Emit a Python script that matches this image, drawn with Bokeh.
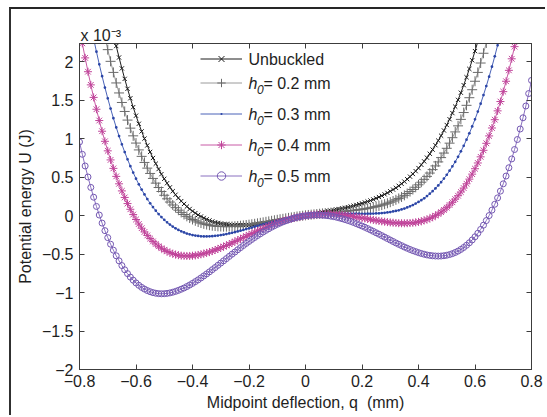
from bokeh.plotting import figure
from bokeh.models import (LinearAxis, FixedTicker, CustomJSTickFormatter, Label,
                          Legend, LegendItem)
from bokeh.embed import file_html
from bokeh.resources import INLINE

# Midpoint deflection grid, mm
Q = [-0.80, -0.79, -0.78, -0.77, -0.76, -0.75, -0.74, -0.73, -0.72, -0.71,
     -0.70, -0.69, -0.68, -0.67, -0.66, -0.65, -0.64, -0.63, -0.62, -0.61,
     -0.60, -0.59, -0.58, -0.57, -0.56, -0.55, -0.54, -0.53, -0.52, -0.51,
     -0.50, -0.49, -0.48, -0.47, -0.46, -0.45, -0.44, -0.43, -0.42, -0.41,
     -0.40, -0.39, -0.38, -0.37, -0.36, -0.35, -0.34, -0.33, -0.32, -0.31,
     -0.30, -0.29, -0.28, -0.27, -0.26, -0.25, -0.24, -0.23, -0.22, -0.21,
     -0.20, -0.19, -0.18, -0.17, -0.16, -0.15, -0.14, -0.13, -0.12, -0.11,
     -0.10, -0.09, -0.08, -0.07, -0.06, -0.05, -0.04, -0.03, -0.02, -0.01,
     0.00, 0.01, 0.02, 0.03, 0.04, 0.05, 0.06, 0.07, 0.08, 0.09,
     0.10, 0.11, 0.12, 0.13, 0.14, 0.15, 0.16, 0.17, 0.18, 0.19,
     0.20, 0.21, 0.22, 0.23, 0.24, 0.25, 0.26, 0.27, 0.28, 0.29,
     0.30, 0.31, 0.32, 0.33, 0.34, 0.35, 0.36, 0.37, 0.38, 0.39,
     0.40, 0.41, 0.42, 0.43, 0.44, 0.45, 0.46, 0.47, 0.48, 0.49,
     0.50, 0.51, 0.52, 0.53, 0.54, 0.55, 0.56, 0.57, 0.58, 0.59,
     0.60, 0.61, 0.62, 0.63, 0.64, 0.65, 0.66, 0.67, 0.68, 0.69,
     0.70, 0.71, 0.72, 0.73, 0.74, 0.75, 0.76, 0.77, 0.78, 0.79,
     0.80]

# Potential energy (x 1e-3 J); each series starts at the given index of Q
START_UNBUCKLED = 12
U_UNBUCKLED = [
    2.363, 2.207, 2.058, 1.916, 1.780, 1.651, 1.528, 1.412, 1.301, 1.196,
    1.097, 1.003, 0.914, 0.830, 0.751, 0.677, 0.607, 0.541, 0.480, 0.423,
    0.369, 0.319, 0.273, 0.230, 0.190, 0.153, 0.119, 0.088, 0.060, 0.034,
    0.011, -0.010, -0.029, -0.046, -0.061, -0.074, -0.085, -0.094, -0.102, -0.109,
    -0.114, -0.118, -0.121, -0.123, -0.124, -0.124, -0.123, -0.121, -0.119, -0.116,
    -0.112, -0.108, -0.103, -0.098, -0.093, -0.087, -0.081, -0.075, -0.069, -0.062,
    -0.055, -0.049, -0.042, -0.035, -0.028, -0.021, -0.014, -0.007, 0.000,
    0.007, 0.014, 0.021, 0.028, 0.035, 0.042, 0.049, 0.057, 0.064, 0.071,
    0.079, 0.087, 0.095, 0.103, 0.112, 0.121, 0.130, 0.140, 0.150, 0.161,
    0.173, 0.185, 0.198, 0.212, 0.227, 0.243, 0.260, 0.278, 0.297, 0.318,
    0.340, 0.363, 0.389, 0.416, 0.444, 0.475, 0.508, 0.543, 0.580, 0.620,
    0.662, 0.707, 0.755, 0.806, 0.860, 0.917, 0.977, 1.041, 1.109, 1.180,
    1.255, 1.335, 1.419, 1.507, 1.600, 1.698, 1.801, 1.909, 2.022, 2.141,
    2.266]

START_H02 = 9
U_H02 = [
    2.318, 2.160, 2.008, 1.864, 1.727, 1.597, 1.473, 1.356, 1.244, 1.139,
    1.039, 0.945, 0.856, 0.772, 0.693, 0.619, 0.550, 0.485, 0.424, 0.367,
    0.315, 0.266, 0.220, 0.178, 0.140, 0.105, 0.072, 0.043, 0.016, -0.008,
    -0.030, -0.049, -0.066, -0.082, -0.095, -0.106, -0.115, -0.123, -0.130, -0.134,
    -0.138, -0.140, -0.142, -0.142, -0.141, -0.140, -0.137, -0.134, -0.130, -0.126,
    -0.121, -0.116, -0.111, -0.105, -0.099, -0.092, -0.086, -0.079, -0.073, -0.066,
    -0.059, -0.053, -0.046, -0.040, -0.034, -0.028, -0.022, -0.016, -0.010, -0.005,
    0.000,
    0.005, 0.010, 0.014, 0.018, 0.022, 0.026, 0.030, 0.034, 0.037, 0.041,
    0.044, 0.048, 0.051, 0.054, 0.058, 0.062, 0.065, 0.070, 0.074, 0.079,
    0.084, 0.090, 0.096, 0.103, 0.111, 0.119, 0.128, 0.138, 0.150, 0.162,
    0.176, 0.191, 0.207, 0.225, 0.244, 0.265, 0.289, 0.314, 0.341, 0.370,
    0.402, 0.436, 0.473, 0.512, 0.555, 0.600, 0.648, 0.700, 0.756, 0.815,
    0.877, 0.944, 1.015, 1.090, 1.169, 1.253, 1.342, 1.436, 1.535, 1.639,
    1.749, 1.864, 1.986, 2.113, 2.247]

START_H03 = 5
U_H03 = [
    2.303, 2.133, 1.970, 1.815, 1.667, 1.527, 1.394, 1.268, 1.149, 1.036,
    0.929, 0.828, 0.734, 0.644, 0.561, 0.482, 0.409, 0.340, 0.277, 0.217,
    0.162, 0.112, 0.065, 0.022, -0.018, -0.053, -0.086, -0.115, -0.141, -0.164,
    -0.185, -0.203, -0.218, -0.232, -0.242, -0.251, -0.258, -0.263, -0.267, -0.269,
    -0.269, -0.268, -0.266, -0.262, -0.258, -0.252, -0.246, -0.239, -0.231, -0.223,
    -0.214, -0.204, -0.195, -0.185, -0.174, -0.164, -0.154, -0.143, -0.133, -0.122,
    -0.112, -0.102, -0.092, -0.082, -0.073, -0.064, -0.055, -0.046, -0.038, -0.031,
    -0.024, -0.017, -0.011, -0.005, 0.000,
    0.005, 0.009, 0.013, 0.016, 0.019, 0.022, 0.024, 0.025, 0.027, 0.027,
    0.028, 0.028, 0.028, 0.028, 0.028, 0.028, 0.027, 0.027, 0.026, 0.026,
    0.025, 0.025, 0.026, 0.026, 0.028, 0.029, 0.031, 0.034, 0.038, 0.042,
    0.048, 0.055, 0.062, 0.071, 0.082, 0.093, 0.107, 0.122, 0.139, 0.158,
    0.179, 0.202, 0.227, 0.255, 0.286, 0.319, 0.355, 0.394, 0.437, 0.483,
    0.532, 0.585, 0.642, 0.702, 0.767, 0.837, 0.910, 0.989, 1.072, 1.161,
    1.254, 1.354, 1.458, 1.569, 1.686, 1.809, 1.938, 2.074, 2.217, 2.367]

START_H04 = 0
U_H04 = [
    2.440, 2.242, 2.053, 1.873, 1.702, 1.539, 1.385, 1.238, 1.099, 0.968,
    0.844, 0.726, 0.616, 0.512, 0.415, 0.323, 0.238, 0.158, 0.084, 0.015,
    -0.049, -0.108, -0.162, -0.211, -0.256, -0.297, -0.334, -0.367, -0.397, -0.423,
    -0.445, -0.464, -0.481, -0.494, -0.505, -0.513, -0.519, -0.522, -0.523, -0.523,
    -0.520, -0.516, -0.510, -0.502, -0.493, -0.483, -0.472, -0.460, -0.446, -0.432,
    -0.417, -0.402, -0.386, -0.370, -0.353, -0.336, -0.318, -0.301, -0.284, -0.266,
    -0.249, -0.232, -0.215, -0.198, -0.182, -0.166, -0.150, -0.135, -0.121, -0.107,
    -0.094, -0.081, -0.069, -0.058, -0.047, -0.037, -0.028, -0.020, -0.013, -0.006,
    0.000,
    0.005, 0.009, 0.013, 0.016, 0.018, 0.019, 0.019, 0.019, 0.018, 0.016,
    0.014, 0.011, 0.008, 0.004, -0.001, -0.006, -0.011, -0.017, -0.023, -0.029,
    -0.035, -0.042, -0.048, -0.054, -0.061, -0.067, -0.073, -0.078, -0.083, -0.087,
    -0.091, -0.094, -0.097, -0.098, -0.098, -0.097, -0.095, -0.092, -0.087, -0.080,
    -0.072, -0.061, -0.049, -0.035, -0.018, 0.001, 0.023, 0.047, 0.075, 0.105,
    0.139, 0.175, 0.216, 0.260, 0.308, 0.360, 0.416, 0.476, 0.541, 0.611,
    0.686, 0.766, 0.851, 0.942, 1.038, 1.141, 1.249, 1.364, 1.485, 1.614,
    1.749, 1.891, 2.041, 2.199, 2.364]

START_H05 = 0
U_H05 = [
    0.959, 0.799, 0.647, 0.504, 0.368, 0.241, 0.121, 0.009, -0.096, -0.194,
    -0.285, -0.370, -0.448, -0.521, -0.587, -0.648, -0.703, -0.753, -0.798, -0.838,
    -0.874, -0.905, -0.932, -0.954, -0.973, -0.988, -1.000, -1.008, -1.013, -1.015,
    -1.014, -1.010, -1.004, -0.995, -0.984, -0.971, -0.956, -0.940, -0.921, -0.901,
    -0.880, -0.857, -0.834, -0.809, -0.783, -0.757, -0.730, -0.702, -0.674, -0.645,
    -0.616, -0.587, -0.558, -0.529, -0.500, -0.472, -0.443, -0.415, -0.387, -0.360,
    -0.334, -0.308, -0.283, -0.258, -0.235, -0.212, -0.190, -0.169, -0.149, -0.130,
    -0.112, -0.096, -0.080, -0.066, -0.053, -0.041, -0.030, -0.021, -0.013, -0.006,
    0.000,
    0.004, 0.007, 0.009, 0.010, 0.009, 0.007, 0.004, 0.000, -0.006, -0.012,
    -0.020, -0.029, -0.039, -0.050, -0.062, -0.074, -0.088, -0.103, -0.118, -0.134,
    -0.150, -0.167, -0.185, -0.203, -0.222, -0.240, -0.259, -0.278, -0.297, -0.316,
    -0.335, -0.354, -0.372, -0.389, -0.407, -0.423, -0.439, -0.454, -0.467, -0.480,
    -0.491, -0.501, -0.510, -0.516, -0.521, -0.524, -0.525, -0.524, -0.520, -0.514,
    -0.505, -0.493, -0.478, -0.460, -0.438, -0.413, -0.384, -0.352, -0.315, -0.274,
    -0.228, -0.178, -0.123, -0.063, 0.002, 0.073, 0.149, 0.232, 0.320, 0.415,
    0.516, 0.624, 0.739, 0.861, 0.991, 1.128, 1.274, 1.427, 1.589, 1.760]

H0_LABELS = ["0.2", "0.3", "0.4", "0.5"]

X_TICKS = [-0.8, -0.6, -0.4, -0.2, 0.0, 0.2, 0.4, 0.6, 0.8]
Y_TICKS = [-2.0, -1.5, -1.0, -0.5, 0.0, 0.5, 1.0, 1.5, 2.0]

FONT = "Liberation Sans"
TXT = "#1e1e1e"
AX = "#3c3c3c"

# (start, values, line colour, marker, marker colour, marker size, marker fill)
SERIES = [
    (START_UNBUCKLED, U_UNBUCKLED, "#1c1c1c", "x", "#1c1c1c", 6, None),
    (START_H02, U_H02, "#9a9a9a", "cross", "#6a6a6a", 10, None),
    (START_H03, U_H03, "#4a63b8", "dot", "#2b45a6", 11, "#2b45a6"),
    (START_H04, U_H04, "#c85aa6", "asterisk", "#c0449a", 8, None),
    (START_H05, U_H05, "#8a70c0", "circle", "#7458b2", 6, None),
]

p = figure(width=536, height=408, x_range=(-0.8, 0.8), y_range=(-2.0, 2.24),
           output_backend="svg", toolbar_location=None,
           min_border_left=68, min_border_right=16,
           min_border_top=34, min_border_bottom=48,
           background_fill_color="white", border_fill_color="white")
# panel frame: heavy rule on the top and left edges
p.styles = {"margin-left": "9px", "margin-top": "7px",
            "border-top": "2px solid #262626",
            "border-left": "2px solid #303030"}
p.grid.visible = False
p.outline_line_color = AX
p.outline_line_width = 1

p.title.text = "x 10\u207b\u00b3"
p.title.align = "left"
p.title.offset = 1
p.title.standoff = 0
p.title.text_font = FONT
p.title.text_font_size = "16px"
p.title.text_font_style = "normal"
p.title.text_color = TXT

tick_fmt = CustomJSTickFormatter(code="""
const s = (Math.round(tick * 100) / 100).toString();
return s.replace('-', '\u2212');
""")
blank_fmt = CustomJSTickFormatter(code="return '';")


def style_axis(ax, ticks, fmt):
    ax.ticker = FixedTicker(ticks=ticks)
    ax.formatter = fmt
    ax.major_tick_in = 5
    ax.major_tick_out = 0
    ax.minor_tick_line_color = None
    ax.axis_line_color = AX
    ax.major_tick_line_color = AX
    ax.major_label_text_font = FONT
    ax.major_label_text_font_size = "16px"
    ax.major_label_text_color = TXT
    ax.axis_label_text_font = FONT
    ax.axis_label_text_font_size = "16px"
    ax.axis_label_text_font_style = "normal"
    ax.axis_label_text_color = TXT


style_axis(p.xaxis[0], X_TICKS, tick_fmt)
style_axis(p.yaxis[0], Y_TICKS, tick_fmt)
p.xaxis[0].major_label_standoff = 5
p.xaxis[0].axis_label = "Midpoint deflection, q\u00a0 (mm)"
p.xaxis[0].axis_label_standoff = 4
p.yaxis[0].major_label_standoff = 6
p.yaxis[0].axis_label = "Potential energy U (J)"
p.yaxis[0].axis_label_standoff = 5

top_axis = LinearAxis()
style_axis(top_axis, X_TICKS, blank_fmt)
top_axis.major_label_text_font_size = "1px"
top_axis.major_label_standoff = 0
p.add_layout(top_axis, "above")
right_axis = LinearAxis()
style_axis(right_axis, Y_TICKS, blank_fmt)
right_axis.major_label_text_font_size = "1px"
p.add_layout(right_axis, "right")

items = []
for start, u, lc, mk, mc, ms, fill in SERIES:
    xs = Q[start:start + len(u)]
    ln = p.line(xs, u, line_color=lc, line_width=1)
    sc = p.scatter(xs, u, marker=mk, size=ms, line_color=mc,
                   fill_color=fill, line_width=1)
    items.append([ln, sc])

legend_kw = dict(background_fill_alpha=0, border_line_alpha=0, padding=0,
                 margin=0, spacing=10, glyph_width=42, glyph_height=21,
                 label_height=21, label_width=1, label_standoff=0,
                 label_text_font_size="1px")
leg_a = Legend(items=[LegendItem(label=" ", renderers=items[0])],
               location=(121, 300), **legend_kw)
leg_b = Legend(items=[LegendItem(label=" ", renderers=r) for r in items[1:]],
               location=(121, 183), **legend_kw)
p.add_layout(leg_a)
p.add_layout(leg_b)

# legend texts
LEG_X = -0.202
ROW_Y = [2.032, 1.720, 1.316, 0.913, 0.510]
text_kw = dict(text_font=FONT, text_color=TXT, text_baseline="middle")
p.add_layout(Label(x=LEG_X, y=ROW_Y[0], text="Unbuckled",
                   text_font_size="16px", **text_kw))
for yy, h in zip(ROW_Y[1:], H0_LABELS):
    p.add_layout(Label(x=LEG_X, y=yy, text="h", text_font_size="16px",
                       text_font_style="italic", **text_kw))
    p.add_layout(Label(x=LEG_X, y=yy, x_offset=8.5, y_offset=-6, text="0",
                       text_font_size="12px", text_font_style="italic", **text_kw))
    p.add_layout(Label(x=LEG_X, y=yy, x_offset=15, text="= " + h + " mm",
                       text_font_size="16px", **text_kw))

open("out.html", "w").write(file_html(p, INLINE))
